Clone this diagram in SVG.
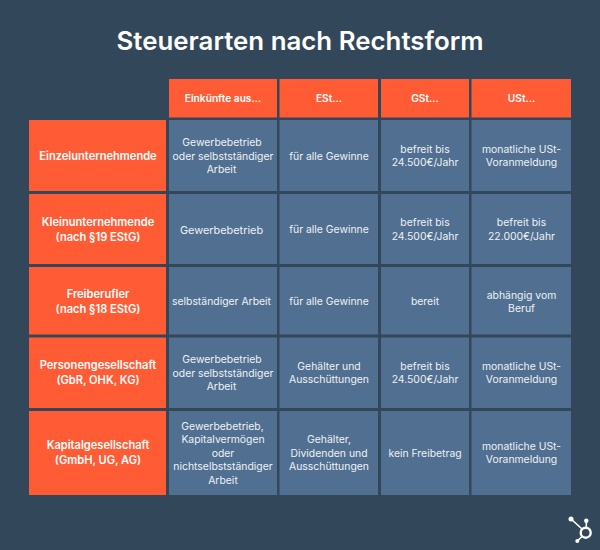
<svg xmlns="http://www.w3.org/2000/svg" width="600" height="550" viewBox="0 0 600 550">
<style>
text{font-family:"Inter","Noto Sans",sans-serif;text-anchor:middle;fill:#fff}
.t{font-size:25.850px;font-weight:600}
.h{font-size:11.100px;font-weight:600}
.hh{font-size:10.200px;font-weight:600}
.c{font-size:10.400px;fill:#eef2f6}
.o{fill:#ff5c35}.b{fill:#516f90}
</style>
<rect width="600" height="550" fill="#33475b"/>
<text id="title" class="t" x="300" y="50">Steuerarten nach Rechtsform</text>
<g id="headers">
<g id="h1"><rect class="o" x="169" y="79" width="108" height="38.500"/><text class="hh" x="223" y="102">Einkünfte aus...</text></g>
<g id="h2"><rect class="o" x="279.500" y="79" width="98.500" height="38.500"/><text class="hh" x="329" y="102">ESt...</text></g>
<g id="h3"><rect class="o" x="381" y="79" width="88" height="38.500"/><text class="hh" x="425" y="102">GSt...</text></g>
<g id="h4"><rect class="o" x="471.500" y="79" width="99.500" height="38.500"/><text class="hh" x="521.500" y="102">USt...</text></g>
</g>
<g id="row1">
<rect class="o" x="29" y="120" width="137" height="71"/><text class="h" x="98" y="160">Einzelunternehmende</text>
<rect class="b" x="169" y="120" width="108" height="71"/><text class="c" x="222" y="146">Gewerbebetrieb</text><text class="c" x="223" y="160">oder selbstständiger</text><text class="c" x="221.500" y="173">Arbeit</text>
<rect class="b" x="279.500" y="120" width="98.500" height="71"/><text class="c" x="329" y="160">für alle Gewinne</text>
<rect class="b" x="381" y="120" width="88" height="71"/><text class="c" x="425" y="153">befreit bis</text><text class="c" x="425" y="166">24.500€/Jahr</text>
<rect class="b" x="471.500" y="120" width="99.500" height="71"/><text class="c" x="521.500" y="153">monatliche USt-</text><text class="c" x="521.500" y="166">Voranmeldung</text>
</g>
<g id="row2">
<rect class="o" x="29" y="194" width="137" height="70"/><text class="h" x="98" y="226">Kleinunternehmende</text><text class="h" x="98" y="241">(nach §19 EStG)</text>
<rect class="b" x="169" y="194" width="108" height="70"/><text class="c" style="font-size:10.900px" x="221.500" y="234">Gewerbebetrieb</text>
<rect class="b" x="279.500" y="194" width="98.500" height="70"/><text class="c" x="329" y="233">für alle Gewinne</text>
<rect class="b" x="381" y="194" width="88" height="70"/><text class="c" x="425" y="226">befreit bis</text><text class="c" x="425" y="240">24.500€/Jahr</text>
<rect class="b" x="471.500" y="194" width="99.500" height="70"/><text class="c" x="521.500" y="226">befreit bis</text><text class="c" x="521.500" y="240">22.000€/Jahr</text>
</g>
<g id="row3">
<rect class="o" x="29" y="267" width="137" height="67.500"/><text class="h" x="98" y="298">Freiberufler</text><text class="h" x="98" y="313">(nach §18 EStG)</text>
<rect class="b" x="169" y="267" width="108" height="67.500"/><text class="c" x="221.500" y="305">selbständiger Arbeit</text>
<rect class="b" x="279.500" y="267" width="98.500" height="67.500"/><text class="c" x="329" y="305">für alle Gewinne</text>
<rect class="b" x="381" y="267" width="88" height="67.500"/><text class="c" x="425" y="305">bereit</text>
<rect class="b" x="471.500" y="267" width="99.500" height="67.500"/><text class="c" x="521.500" y="299">abhängig vom</text><text class="c" x="521.500" y="312">Beruf</text>
</g>
<g id="row4">
<rect class="o" x="29" y="337.500" width="137" height="70.500"/><text class="h" x="98" y="369">Personengesellschaft</text><text class="h" x="98" y="384">(GbR, OHK, KG)</text>
<rect class="b" x="169" y="337.500" width="108" height="70.500"/><text class="c" x="222" y="363">Gewerbebetrieb</text><text class="c" x="223" y="377">oder selbstständiger</text><text class="c" x="221.500" y="390">Arbeit</text>
<rect class="b" x="279.500" y="337.500" width="98.500" height="70.500"/><text class="c" x="329" y="370">Gehälter und</text><text class="c" x="329" y="383">Ausschüttungen</text>
<rect class="b" x="381" y="337.500" width="88" height="70.500"/><text class="c" x="425" y="370">befreit bis</text><text class="c" x="425" y="383">24.500€/Jahr</text>
<rect class="b" x="471.500" y="337.500" width="99.500" height="70.500"/><text class="c" x="521.500" y="370">monatliche USt-</text><text class="c" x="521.500" y="383">Voranmeldung</text>
</g>
<g id="row5">
<rect class="o" x="29" y="411" width="137" height="84"/><text class="h" x="98" y="449">Kapitalgesellschaft</text><text class="h" x="98" y="464">(GmbH, UG, AG)</text>
<rect class="b" x="169" y="411" width="108" height="84"/><text class="c" x="222.500" y="430">Gewerbebetrieb,</text><text class="c" x="223" y="443">Kapitalvermögen</text><text class="c" x="223" y="457">oder</text><text class="c" x="223" y="470">nichtselbstständiger</text><text class="c" x="223" y="484">Arbeit</text>
<rect class="b" x="279.500" y="411" width="98.500" height="84"/><text class="c" x="329" y="443">Gehälter,</text><text class="c" x="329" y="457">Dividenden und</text><text class="c" x="329" y="470">Ausschüttungen</text>
<rect class="b" x="381" y="411" width="88" height="84"/><text class="c" x="425" y="457">kein Freibetrag</text>
<rect class="b" x="471.500" y="411" width="99.500" height="84"/><text class="c" x="521.500" y="450">monatliche USt-</text><text class="c" x="521.500" y="463">Voranmeldung</text>
</g>
<g id="logo">
<circle cx="585.700" cy="532.700" r="5" fill="none" stroke="#fff" stroke-width="2.400"/>
<path d="M571 519L581.500 528.500M586.300 520.700V527M577.300 541L582 536.500" stroke="#fff" stroke-width="1.600" fill="none"/>
<circle cx="571" cy="519" r="2.500" fill="#fff"/><circle cx="586.300" cy="520.700" r="2.200" fill="#fff"/><circle cx="577.300" cy="541" r="2" fill="#fff"/>
</g>
</svg>
